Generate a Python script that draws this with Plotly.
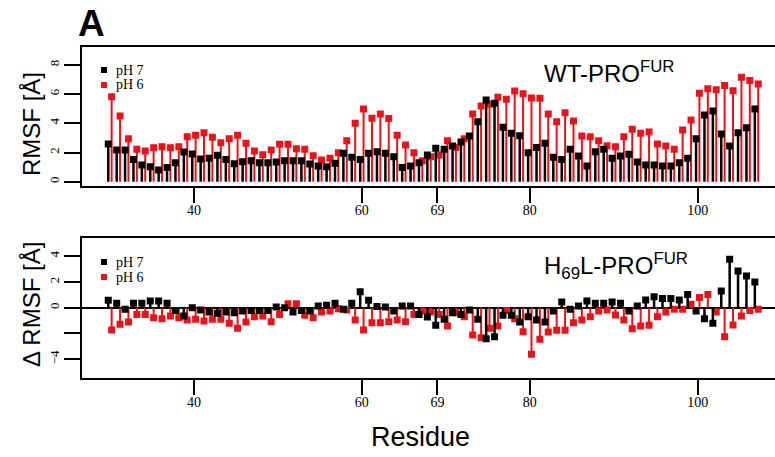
import plotly.graph_objects as go

residues = list(range(30, 108))

rmsf_ph7 = [2.58, 2.17, 2.17, 1.53, 1.14, 1.03, 0.80, 0.98, 1.30, 2.03,
            1.90, 1.55, 1.60, 1.81, 1.53, 1.23, 1.37, 1.44, 1.30, 1.30,
            1.35, 1.44, 1.44, 1.44, 1.21, 1.08, 1.03, 1.26, 1.95, 1.67,
            1.53, 1.95, 2.05, 1.95, 1.71, 0.98, 1.08, 1.30, 1.83, 2.29,
            2.22, 2.45, 2.72, 3.13, 4.11, 5.60, 5.37, 3.73, 3.32, 3.15,
            1.99, 2.35, 2.63, 1.67, 1.53, 2.22, 1.76, 1.08, 2.05, 2.22,
            1.60, 1.76, 1.88, 1.35, 1.14, 1.14, 1.08, 1.08, 1.30, 1.60,
            2.95, 4.57, 4.84, 3.27, 2.45, 3.36, 3.70, 4.98]

rmsf_ph6 = [5.82, 4.50, 2.95, 2.22, 2.10, 2.33, 2.40, 2.33, 2.40, 3.08,
            3.18, 3.36, 3.04, 2.67, 2.95, 3.18, 2.63, 2.10, 1.85, 2.17,
            2.56, 2.56, 2.26, 2.22, 1.78, 1.49, 1.60, 1.99, 2.81, 4.00,
            4.98, 4.34, 4.64, 4.32, 3.18, 2.51, 1.99, 1.44, 1.71, 1.83,
            2.81, 2.35, 2.95, 4.64, 5.19, 5.30, 5.78, 5.64, 6.21, 6.03,
            5.73, 5.71, 4.64, 4.11, 4.73, 4.16, 3.13, 3.08, 2.81, 2.47,
            2.40, 3.08, 3.59, 3.32, 3.40, 2.58, 2.45, 2.22, 3.54, 4.23,
            6.05, 6.37, 6.30, 6.58, 6.23, 7.15, 6.92, 6.69]

drmsf_ph7 = [0.57, 0.34, -0.13, 0.34, 0.34, 0.52, 0.52, 0.34, -0.21, -0.65,
             0.00, -0.18, -0.34, -0.44, -0.34, -0.39, -0.26, -0.21, -0.21, -0.21,
             0.05, 0.00, -0.34, -0.21, -0.26, 0.13, 0.18, 0.34, -0.13, 0.34,
             1.24, 0.57, 0.10, 0.05, -0.26, 0.13, 0.13, -0.52, -0.72, -1.37,
             -0.90, -0.39, -0.52, -0.18, -0.90, -2.40, -2.25, -0.59, -0.59, -1.11,
             -0.70, -0.96, -1.11, -0.26, 0.44, -0.13, 0.13, 0.52, 0.34, 0.34,
             0.44, 0.34, -0.26, 0.13, 0.59, 0.85, 0.72, 0.72, 0.59, 1.03,
             -0.26, -0.85, -1.21, 1.29, 3.75, 2.84, 2.45, 1.99]

drmsf_ph6 = [-1.73, -1.29, -1.11, -0.52, -0.52, -0.78, -0.85, -0.65, -0.78, -0.96,
             -0.90, -1.03, -0.90, -0.90, -1.21, -1.60, -1.11, -0.70, -0.65, -1.09,
             -0.52, 0.31, 0.31, -0.59, -0.78, -0.34, -0.26, -0.08, -0.18, -0.96,
             -1.73, -1.16, -1.16, -1.09, -0.96, -1.09, -0.52, -0.26, -0.34, -0.52,
             -1.42, -0.39, -0.70, -2.12, -2.33, -1.60, -1.42, -0.21, -0.85, -1.86,
             -3.62, -2.45, -1.89, -1.76, -1.76, -1.16, -0.96, -0.70, -0.26, -0.18,
             -0.57, -0.96, -1.63, -1.42, -1.37, -0.70, -0.34, -0.13, -0.13, 0.26,
             0.78, 1.03, -0.34, -2.25, -1.34, -0.65, -0.21, -0.13]

tick_vals = [40, 60, 69, 80, 100]
tick_text = ["40", "60", "69", "80", "100"]

BLACK = "#000000"
RED = "#e8141b"
OFF = 0.2

fig = go.Figure()


def stems(xs, vals, color, thick, xref, yref):
    up = [max(-v, 0) for v in vals]
    down = [max(v, 0) for v in vals]
    return go.Scatter(
        x=xs, y=vals, mode="markers", xaxis=xref, yaxis=yref, showlegend=False,
        marker=dict(symbol="square", size=7, color=color, line=dict(width=0)),
        error_y=dict(type="data", symmetric=False, array=up, arrayminus=down,
                     width=0, thickness=thick, color=color),
        hoverinfo="skip",
    )


xb = [r - OFF for r in residues]
xr = [r + OFF for r in residues]

fig.add_trace(stems(xr, rmsf_ph6, RED, 2, "x", "y"))
fig.add_trace(stems(xb, rmsf_ph7, BLACK, 2.5, "x", "y"))
fig.add_trace(stems(xr, drmsf_ph6, RED, 2, "x2", "y2"))
fig.add_trace(stems(xb, drmsf_ph7, BLACK, 2.5, "x2", "y2"))

W, H = 775, 457
x0 = 82 / W
xrange = [26.67, 109.2]

common_x = dict(
    range=xrange, domain=[x0, 1.0], showline=True, linecolor="black", linewidth=2,
    mirror=True, ticks="outside", ticklen=15, tickwidth=2, tickcolor="black",
    tickvals=tick_vals, ticktext=tick_text, showgrid=False, zeroline=False,
    ticklabelstandoff=-5,
    tickfont=dict(family="Liberation Serif", size=14, color="black"),
)
common_y = dict(
    showline=True, linecolor="black", linewidth=2, ticks="outside", ticklen=16,
    tickwidth=2, tickcolor="black", showgrid=False, tickangle=-90,
    tickfont=dict(family="Liberation Serif", size=13, color="black"),
)

fig.update_layout(
    width=W, height=H, margin=dict(l=0, r=0, t=0, b=0),
    plot_bgcolor="white", paper_bgcolor="white", showlegend=False,
    xaxis=dict(anchor="y", **common_x),
    yaxis=dict(domain=[(H - 185.7) / H, (H - 47.3) / H], range=[-0.27, 9.2],
               tickvals=[0, 2, 4, 6, 8], zeroline=False, anchor="x", **common_y),
    xaxis2=dict(anchor="y2", matches="x", **common_x),
    yaxis2=dict(domain=[(H - 377.7) / H, (H - 238.3) / H], range=[-5.43, 5.38],
                tickvals=[-4, -2, 0, 2, 4], ticktext=["\u22124", "", "0", "2", "4"],
                zeroline=True, zerolinecolor="black", zerolinewidth=1.5,
                anchor="x2", **common_y),
)

ann_font = dict(family="Liberation Sans", color="black")
anns = [
    dict(text="<b>A</b>", x=76 / W, y=1 - 24 / H, xanchor="left",
         font=dict(size=37, **ann_font)),
    dict(text="RMSF [Å]", x=31 / W, y=1 - 124 / H, xanchor="center", textangle=-90,
         font=dict(size=24, **ann_font)),
    dict(text="\u0394 RMSF [Å]", x=31 / W, y=1 - 305 / H, xanchor="center", textangle=-90,
         font=dict(size=24, **ann_font)),
    dict(text="Residue", x=420 / W, y=1 - 437 / H, xanchor="center",
         font=dict(size=27, **ann_font)),
    dict(text="WT-PRO<sup>FUR</sup>", x=542 / W, y=1 - 72 / H, xanchor="left",
         font=dict(size=24, **ann_font)),
    dict(text="H<sub>69</sub>L-PRO<sup>FUR</sup>", x=542 / W, y=1 - 266 / H, xanchor="left",
         font=dict(size=24, **ann_font)),
]
# legends
for yc, lab, col in [(70, "pH 7", BLACK), (85, "pH 6", RED), (262, "pH 7", BLACK), (277, "pH 6", RED)]:
    anns.append(dict(text=lab, x=114 / W, y=1 - yc / H, xanchor="left",
                     font=dict(family="Liberation Serif", size=14, color="black")))
    fig.add_shape(type="rect", xref="paper", yref="paper",
                  x0=101 / W, x1=107 / W, y0=1 - (yc + 3) / H, y1=1 - (yc - 3) / H,
                  fillcolor=col, line=dict(width=0))

for a in anns:
    a.setdefault("xref", "paper")
    a.setdefault("yref", "paper")
    a.setdefault("yanchor", "middle")
    a.setdefault("showarrow", False)
fig.update_layout(annotations=anns)

fig.write_html("out.html")
